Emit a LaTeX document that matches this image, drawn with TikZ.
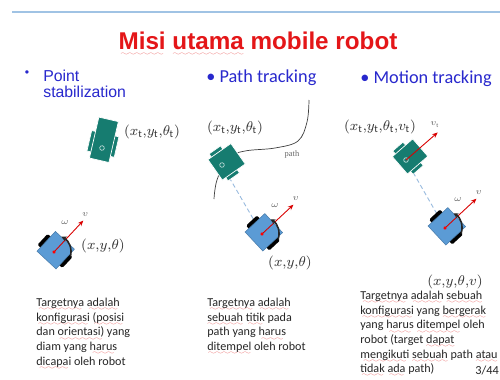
\documentclass[tikz,border=0pt]{standalone}
\usepackage{fontspec}
\setmainfont{Carlito}
\newfontfamily\arialfont{Liberation Sans}
\newfontfamily\seriffont{Liberation Serif}
\usetikzlibrary{arrows.meta}

\definecolor{slidered}{RGB}{228,22,24}
\definecolor{headblue}{RGB}{40,40,205}
\definecolor{rulecol}{RGB}{160,195,228}
\definecolor{botteal}{RGB}{22,124,112}
\definecolor{botblue}{RGB}{91,155,213}
\definecolor{linkblue}{RGB}{150,185,222}
\definecolor{squig}{RGB}{236,105,105}

% red wavy underline (spell check marks)
\font\wavefont=lasy6 \relax
\newcommand\waveunder[2]{\setbox0\hbox{#2}\leavevmode
  \rlap{\textcolor{squig}{\lower#1\hbox to \wd0{\cleaders\hbox{\scalebox{0.8}[0.6]{\wavefont\char58}}\hfil}}}\box0\relax}
\newcommand\sq[1]{\waveunder{2.4pt}{#1}}
\newcommand\sqbig[1]{\waveunder{3.4pt}{#1}}

\tikzset{
  wheel/.style={fill=black, rounded corners=0.8pt},
  bluebody/.style={fill=botblue, draw=botblue!80!black, line width=0.3pt},
  tealpart/.style={fill=botteal, draw=white, line width=0.4pt},
  hub/.style={draw=white!70!botteal, line width=0.4pt},
  vel/.style={red!85!black, line width=0.5pt, -{Stealth[length=3.2pt, width=2.6pt]}},
  turn/.style={black!85, line width=0.9pt, -{Stealth[length=3pt, width=3pt]}},
  tag/.style={font=\seriffont\fontsize{4.8}{5}\selectfont, text=black!60, inner sep=0.5pt},
  pose/.style={font=\fontsize{8}{9}\selectfont, text=black!80, inner sep=0},
  head/.style={font=\fontsize{10.4}{12}\selectfont, text=headblue, inner sep=0},
  note/.style={font=\fontsize{6.9}{8.3}\selectfont, text=black!85, align=left, inner sep=0, anchor=north west},
  link/.style={linkblue, dash pattern=on 2.5pt off 1.6pt, line width=0.5pt},
  trail/.style={black!75, line width=0.4pt},
  % differential drive robot, origin at the wheel axle centre
  bluebot/.pic={
    \fill[wheel] (-6,-17) rectangle (9,-11);
    \fill[wheel] (-6,11) rectangle (9,17);
    \filldraw[bluebody] (-11,-13) rectangle (16,13);
    \draw[vel] (0,0) -- (43,0);
    \draw[turn] (62:17) arc[start angle=62, end angle=-17, radius=17];
    \fill[red] (0,0) circle (1.8);
    \node[tag] (-w) at (29,-12) {$\omega$};
    \node[tag] (-v) at (49,-3) {$v$};
  },
  % target robot: #1 = length, #2 = width
  pics/tealbot/.style 2 args={code={
    \filldraw[tealpart] (-0.15*#1,-#2/2-4) rectangle (0.35*#1,-#2/2+2);
    \filldraw[tealpart] (-0.15*#1,#2/2-2) rectangle (0.35*#1,#2/2+4);
    \filldraw[tealpart] (-0.3*#1,-#2/2) rectangle (0.7*#1,#2/2);
    \draw[hub] (0,0) circle (2.3);
  }}
}

\begin{document}
\begin{tikzpicture}[x=0.02cm, y=-0.02cm]
\fill[white] (0,0) rectangle (500,379);
\useasboundingbox (0,0) rectangle (500,379);
\draw[rulecol, line width=0.6pt] (12,12) -- (500,12);

% title and headings
\node[font=\arialfont\bfseries\fontsize{13.8}{15}\selectfont, text=slidered, inner sep=0] (ttl) at (258,44) {\sqbig{Misi} \sqbig{utama} mobile robot};
\node[head, font=\arialfont\fontsize{7}{8}\selectfont] (bps) at (27,74) {\textbullet};
\node[head, font=\arialfont\fontsize{9}{9.1}\selectfont, align=left, anchor=north west] (hps) at (43,70) {Point\\stabilization};
\node[head, anchor=west] (hpath) at (206,78) {\textbullet\ Path tracking};
\node[head, anchor=west] (hmot) at (360,79) {\textbullet\ Motion tracking};

% robot positions
\coordinate (t1) at (102,148);
\coordinate (b1) at (54,252);
\coordinate (t2) at (222,165);
\coordinate (b2) at (262,234);
\coordinate (t3) at (406,160);
\coordinate (b3) at (445,228);

% reference path
\draw[trail] plot[smooth, tension=0.6] coordinates {(214,199) (217,180) (228,158) (245,151) (275,148) (298,141) (307,122) (309,100)};
\node[tag] (pth) at (292,154) {path};

\draw[link] (t2) -- (b2);
\draw[link] (t3) -- (b3);

\pic[rotate=77] (tb1) at (t1) {tealbot={42}{20}};
\pic[rotate=35] (tb2) at (t2) {tealbot={28}{25}};
\pic[rotate=41] (tb3) at (t3) {tealbot={27}{23}};
\begin{scope}[shift={(t3)}, rotate=41]
  \draw[vel] (0,0) -- (42,0);
  \node[tag] (vt) at (45,-8) {$v_\mathrm{t}$};
\end{scope}
\pic[rotate=47] (bb1) at (b1) {bluebot};
\pic[rotate=43] (bb2) at (b2) {bluebot};
\pic[rotate=43] (bb3) at (b3) {bluebot};

% poses
\node[pose] (lt1) at (152,132) {$(x_\mathrm{t}{,}y_\mathrm{t}{,}\theta_\mathrm{t})$};
\node[pose] (lb1) at (103,246) {$(x{,}y{,}\theta)$};
\node[pose] (lt2) at (235,128) {$(x_\mathrm{t}{,}y_\mathrm{t}{,}\theta_\mathrm{t})$};
\node[pose] (lb2) at (290,263) {$(x{,}y{,}\theta)$};
\node[pose] (lt3) at (380,127) {$(x_\mathrm{t}{,}y_\mathrm{t}{,}\theta_\mathrm{t}{,}v_\mathrm{t})$};
\node[pose] (lb3) at (455,282) {$(x{,}y{,}\theta{,}v)$};

% descriptions
\node[note] (txa) at (36,298) {\sq{Targetnya} \sq{adalah}\\\sq{konfigurasi} \sq{(posisi}\\dan \sq{orientasi)} yang\\diam yang \sq{harus}\\\sq{dicapai} oleh robot};
\node[note] (txb) at (207,298) {\sq{Targetnya} \sq{adalah}\\\sq{sebuah} \sq{titik} pada\\path yang \sq{harus}\\\sq{ditempel} oleh robot};
\node[note] (txc) at (360,291) {\sq{Targetnya} \sq{adalah} \sq{sebuah}\\\sq{konfigurasi} yang \sq{bergerak}\\yang \sq{harus} \sq{ditempel} oleh\\robot (target \sq{dapat}\\\sq{mengikuti} \sq{sebuah} path \sq{atau}\\\sq{tidak} \sq{ada} path)};
\node[note, anchor=center, font=\fontsize{7}{8}\selectfont] (pg) at (487,370) {3/44};
\end{tikzpicture}
\end{document}
